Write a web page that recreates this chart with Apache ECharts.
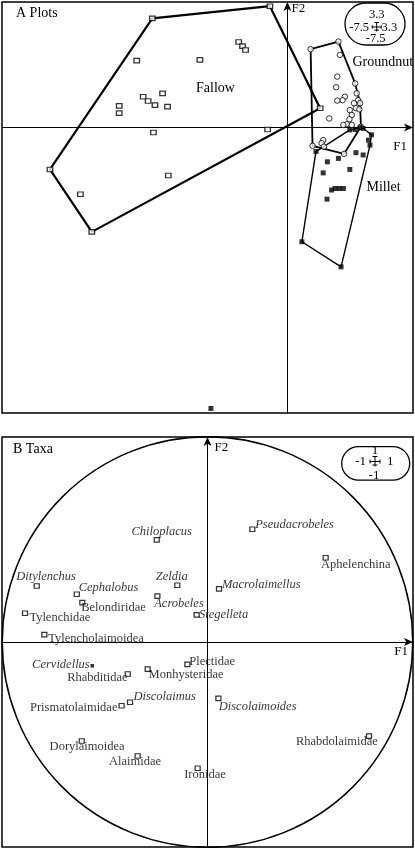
<!DOCTYPE html>
<html><head><meta charset="utf-8">
<script src="https://cdn.jsdelivr.net/npm/echarts@6/dist/echarts.min.js"></script>
<style>html,body{margin:0;padding:0;background:#fff}#c{width:415px;height:849px}</style>
</head><body><div id="c"></div>
<script>
// ---------- Panel A: plots on factorial axes F1 / F2 ----------
const plotAxisRange = [-7.5, 3.3];

const fallowF1 = [-3.55, -0.46, 0.86, -5.14, -6.24, -3.96, -2.30, -1.28, -1.18, -1.10, -3.28, -3.79, -3.66, -3.48, -3.15, -4.42, -4.42, -3.52, -0.52, -3.13, -5.44];
const fallowF2 = [2.87, 3.19, 0.51, -2.74, -1.10, 1.76, 1.78, 2.25, 2.14, 2.04, 0.90, 0.81, 0.70, 0.59, 0.55, 0.57, 0.38, -0.13, -0.05, -1.26, -1.75];
const fallowHullIdx = [0, 1, 2, 3, 4];

const groundnutF1 = [0.61, 1.34, 1.38, 1.31, 1.28, 1.78, 1.82, 1.51, 1.45, 1.31, 1.86, 1.91, 1.75, 1.80, 1.64, 1.89, 1.69, 1.63, 1.10, 1.56, 1.47, 1.69, 0.94, 0.90, 0.66, 0.96, 1.49, 1.93];
const groundnutF2 = [2.06, 2.26, 1.91, 1.34, 1.06, 1.16, 0.90, 0.81, 0.72, 0.71, 0.72, 0.64, 0.64, 0.51, 0.46, 0.48, 0.33, 0.22, 0.24, 0.09, 0.07, 0.07, -0.33, -0.41, -0.48, -0.50, -0.69, 0.02];
const groundnutHullIdx = [0, 1, 5, 11, 27, 26, 24];

const milletF1 = [1.64, 1.78, 1.91, 1.99, 2.21, 2.13, 2.17, 0.75, 1.34, 1.80, 1.99, 1.05, 1.64, 0.94, 1.16, 1.25, 1.36, 1.47, 1.04, 0.38, 1.41, -2.01];
const milletF2 = [-0.06, -0.05, 0.00, -0.02, -0.19, -0.33, -0.46, -0.63, -0.81, -0.66, -0.72, -0.90, -1.10, -1.19, -1.64, -1.60, -1.60, -1.60, -1.88, -3.00, -3.66, -7.38];
const milletHullIdx = [7, 0, 2, 3, 4, 6, 20, 19];

const plotGroupNames = ['Fallow', 'Groundnut', 'Millet'];
const plotScaleLabels = ['3.3', '-7.5', '3.3', '-7.5'];

// ---------- Panel B: taxa on the correlation circle ----------
const taxaAxisRange = [-1, 1];
const taxa = ['Chiloplacus', 'Ditylenchus', 'Cephalobus', 'Belondiridae', 'Zeldia', 'Acrobeles', 'Tylenchidae', 'Stegelleta', 'Pseudacrobeles', 'Aphelenchina', 'Macrolaimellus', 'Tylencholaimoidea', 'Cervidellus', 'Rhabditidae', 'Monhysteridae', 'Plectidae', 'Discolaimus', 'Prismatolaimidae', 'Dorylaimoidea', 'Alaimidae', 'Ironidae', 'Discolaimoides', 'Rhabdolaimidae'];
const taxaF1 = [-0.247, -0.831, -0.636, -0.609, -0.147, -0.244, -0.888, -0.053, 0.218, 0.575, 0.056, -0.794, -0.561, -0.388, -0.291, -0.098, -0.377, -0.418, -0.612, -0.340, -0.048, 0.053, 0.786];
const taxaF2 = [0.498, 0.273, 0.233, 0.192, 0.277, 0.224, 0.140, 0.132, 0.550, 0.411, 0.259, 0.036, -0.116, -0.156, -0.132, -0.109, -0.294, -0.311, -0.483, -0.556, -0.616, -0.275, -0.459];
const taxaScaleLabels = ['1', '-1', '1', '-1'];

// ---------- layout / styling (not data) ----------
const taxaLabelLayout = {
  Chiloplacus: {align: 'center', dx: 5.5, dy: -8, italic: true},
  Ditylenchus: {align: 'center', dx: 10, dy: -9, italic: true},
  Cephalobus: {align: 'left', dx: 2.5, dy: -6, italic: true},
  Belondiridae: {align: 'left', dx: -0.5, dy: 6},
  Zeldia: {align: 'center', dx: -5, dy: -8, italic: true},
  Acrobeles: {align: 'left', dx: -2.5, dy: 8, italic: true},
  Tylenchidae: {align: 'left', dx: 5, dy: 4.5},
  Stegelleta: {align: 'left', dx: 3, dy: 0.5, italic: true},
  Pseudacrobeles: {align: 'left', dx: 3.5, dy: -4, italic: true},
  Aphelenchina: {align: 'left', dx: -4, dy: 8},
  Macrolaimellus: {align: 'left', dx: 3.5, dy: -4, italic: true},
  Tylencholaimoidea: {align: 'left', dx: 4.5, dy: 5},
  Cervidellus: {align: 'right', dx: -2.5, dy: -1.5, italic: true, filled: true},
  Rhabditidae: {align: 'right', dx: 0.5, dy: 4.5},
  Monhysteridae: {align: 'left', dx: 1.5, dy: 6.5},
  Plectidae: {align: 'left', dx: 2.5, dy: -2},
  Discolaimus: {align: 'left', dx: 4, dy: -4.5, italic: true},
  Prismatolaimidae: {align: 'right', dx: -3.5, dy: 2.5},
  Dorylaimoidea: {align: 'center', dx: 6, dy: 6.5},
  Alaimidae: {align: 'center', dx: -2, dy: 6},
  Ironidae: {align: 'center', dx: 8, dy: 7.5},
  Discolaimoides: {align: 'left', dx: 1, dy: 9, italic: true},
  Rhabdolaimidae: {align: 'right', dx: 9.5, dy: 6.5}
};

const serif = '"Liberation Serif","Times New Roman",serif';
const chart = echarts.init(document.getElementById('c'), null, {renderer: 'canvas'});

function pts(xs, ys) { return xs.map((x, i) => [x, ys[i]]); }
function hull(xs, ys, idx) { const p = idx.map(i => [xs[i], ys[i]]); p.push(p[0]); return p; }

function axis(gridIndex, range, name, nameGap, pad, isX) {
  return {
    type: 'value', gridIndex, min: range[0], max: range[1],
    name, nameLocation: 'end', nameGap,
    nameTextStyle: {fontFamily: serif, fontSize: 13, color: '#000',
      align: isX ? 'right' : 'left', verticalAlign: 'top', padding: pad},
    axisTick: {show: false}, axisLabel: {show: false}, splitLine: {show: false},
    axisLine: {show: true, onZero: true, lineStyle: {color: '#000', width: 1},
      symbol: ['none', 'arrow'], symbolSize: [6, 9]}
  };
}

const hullLine = (data, w) => ({
  type: 'line', xAxisIndex: 0, yAxisIndex: 0, data, symbol: 'none', silent: true,
  lineStyle: {color: '#000', width: w}, z: 2, animation: false
});

const taxaData = taxa.map((t, i) => {
  const L = taxaLabelLayout[t];
  const sz = L.filled ? [3.5, 3.5] : [5, 4.5];
  return {
    name: t, value: [taxaF1[i], taxaF2[i]],
    symbolSize: sz,
    itemStyle: L.filled ? {color: '#000', borderWidth: 0} : {color: '#fff', borderColor: '#000', borderWidth: 1.2},
    label: {show: true, formatter: t, position: [sz[0] / 2 + L.dx, sz[1] / 2 + L.dy],
      align: L.align, verticalAlign: 'middle',
      fontFamily: serif, fontSize: 12.5, color: '#000',
      fontStyle: L.italic ? 'italic' : 'normal'}
  };
});

const option = {
  animation: false,
  backgroundColor: '#fff',
  grid: [
    {left: 2, top: 2, width: 411, height: 411, show: true, borderColor: '#000', borderWidth: 1.5, backgroundColor: 'transparent'},
    {left: 2, top: 437, width: 411, height: 410, show: true, borderColor: '#000', borderWidth: 1.5, backgroundColor: 'transparent'}
  ],
  xAxis: [
    axis(0, plotAxisRange, 'F1', -6, [12, 0, 0, 0], true),
    axis(1, taxaAxisRange, 'F1', -5, [3, 0, 0, 0], true)
  ],
  yAxis: [
    axis(0, plotAxisRange, 'F2', 0, [0, 0, 0, 4], false),
    axis(1, taxaAxisRange, 'F2', -4, [0, 0, 0, 7], false)
  ],
  series: [
    hullLine(hull(fallowF1, fallowF2, fallowHullIdx), 2.2),
    hullLine(hull(groundnutF1, groundnutF2, groundnutHullIdx), 1.8),
    hullLine(hull(milletF1, milletF2, milletHullIdx), 1.4),
    {type: 'scatter', name: plotGroupNames[0], xAxisIndex: 0, yAxisIndex: 0, data: pts(fallowF1, fallowF2),
      symbol: 'rect', symbolSize: [5.5, 4.5], itemStyle: {color: '#fff', borderColor: '#000', borderWidth: 1.2}, z: 3},
    {type: 'scatter', name: plotGroupNames[1], xAxisIndex: 0, yAxisIndex: 0, data: pts(groundnutF1, groundnutF2),
      symbol: 'circle', symbolSize: 5.5, itemStyle: {color: '#fff', borderColor: '#000', borderWidth: 1}, z: 3},
    {type: 'scatter', name: plotGroupNames[2], xAxisIndex: 0, yAxisIndex: 0, data: pts(milletF1, milletF2),
      symbol: 'rect', symbolSize: 5, itemStyle: {color: '#000'}, z: 4},
    {type: 'scatter', name: 'Taxa', xAxisIndex: 1, yAxisIndex: 1, data: taxaData, symbol: 'rect', z: 4}
  ]
};
chart.setOption(option);

// Graphic decorations
const txt = (x, y, text, align, size) => ({
  type: 'text', x, y, silent: true, z: 10,
  style: {text, fill: '#000', font: (size || 14) + 'px ' + serif, textAlign: align || 'left', textVerticalAlign: 'middle'}
});
const ln = (x1, y1, x2, y2, w) => ({type: 'line', silent: true, z: 10, shape: {x1, y1, x2, y2}, style: {stroke: '#000', lineWidth: w || 1}});

// box: [x, y, w, h]; cross centre (cx, cy) with half-size arm; leftEnd / rightStart for the side labels
function scaleBox(b, labels, cx, cy, arm, leftEnd, rightStart, topY, botY, fs) {
  return [
    {type: 'rect', silent: true, z: 9, shape: {x: b[0], y: b[1], width: b[2], height: b[3], r: b[3] / 2},
      style: {fill: '#fff', stroke: '#000', lineWidth: 1.3}},
    txt(cx, topY, labels[0], 'center', fs),
    txt(leftEnd, cy + 0.5, labels[1], 'right', fs),
    txt(rightStart, cy + 0.5, labels[2], 'left', fs),
    txt(cx - 1, botY, labels[3], 'center', fs),
    ln(cx, cy - arm, cx, cy + arm),
    ln(cx - arm, cy, cx + arm, cy),
    ln(cx - arm * 0.5, cy - arm, cx + arm * 0.5, cy - arm),
    ln(cx - arm * 0.5, cy + arm * 0.7, cx + arm * 0.5, cy + arm * 0.7),
    ln(cx - arm, cy - arm * 0.4, cx - arm, cy + arm * 0.4),
    ln(cx + arm, cy - arm * 0.4, cx + arm, cy + arm * 0.4)
  ];
}

const c0 = chart.convertToPixel({gridIndex: 1}, [0, 0]);
const c1 = chart.convertToPixel({gridIndex: 1}, [1, 0]);
const c2 = chart.convertToPixel({gridIndex: 1}, [0, 1]);
const r = ((c1[0] - c0[0]) + (c0[1] - c2[1])) / 2;

chart.setOption({
  graphic: {elements: [
    {type: 'circle', silent: true, z: 1, shape: {cx: c0[0], cy: c0[1], r},
      style: {fill: 'none', stroke: '#000', lineWidth: 1.5}},
    txt(16, 13, 'A Plots', 'left', 14),
    txt(13, 449, 'B Taxa', 'left', 14),
    txt(196, 88, plotGroupNames[0], 'left', 14),
    txt(352.5, 62, plotGroupNames[1], 'left', 14),
    txt(366.5, 187, plotGroupNames[2], 'left', 14)
  ].concat(
    scaleBox([345, 3, 60, 42], plotScaleLabels, 376.7, 27, 4.5, 369, 381.5, 15, 39, 12.5),
    scaleBox([341.7, 446.7, 68, 33.5], taxaScaleLabels, 375, 461.5, 5, 366, 387, 451, 476, 13)
  )}
});
</script></body></html>
